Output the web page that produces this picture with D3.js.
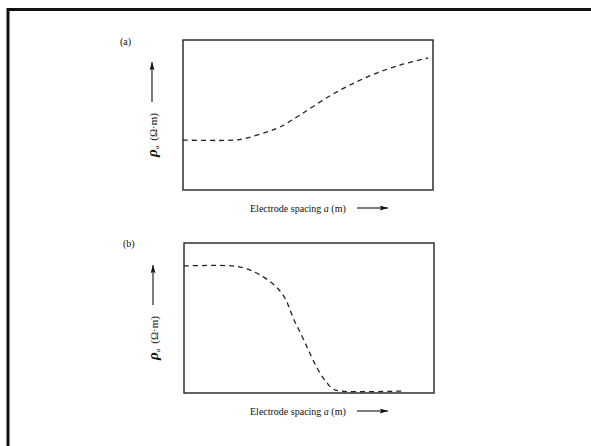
<!DOCTYPE html>
<html>
<head>
<meta charset="utf-8">
<script src="https://cdn.jsdelivr.net/npm/d3@7"></script>
<style>
  body { margin: 0; background: #fff; }
  svg text { font-family: "Liberation Serif", "DejaVu Serif", serif; fill: #111; }
</style>
</head>
<body>
<svg id="chart" width="591" height="446"></svg>
<script>
// sounding curves, x = electrode spacing (0-100), y = apparent resistivity (0-100)
var curveAx = [0, 20.8, 25.6, 33.6, 38.8, 46.8, 60, 73.6, 86.8, 98];
var curveAy = [33.3, 33.3, 34.7, 38.7, 42, 50, 64, 75.3, 83.3, 88];

var curveBx = [0, 19.6, 25.2, 30.4, 35.2, 38.4, 40.8, 42.4, 44.4, 46.4, 49.2, 51.6, 54.4, 57.2, 59.6, 62.4, 87.2];
var curveBy = [84.7, 84.7, 82.7, 78.7, 73.3, 68, 62, 55.3, 47.3, 40.7, 30.7, 22, 13.3, 6.7, 2.7, 1.3, 1.3];

var panelLabels = ['(a)', '(b)'];
var xLabel = 'Electrode spacing ';

var svg = d3.select('#chart');

var defs = svg.append('defs');
defs.append('marker')
	.attr('id', 'head')
	.attr('viewBox', '0 0 10 6')
	.attr('refX', 10)
	.attr('refY', 3)
	.attr('markerWidth', 10)
	.attr('markerHeight', 5)
	.attr('markerUnits', 'userSpaceOnUse')
	.attr('orient', 'auto')
	.append('path')
	.attr('d', 'M0,0 L10,3 L0,6 L2,3 Z')
	.attr('fill', '#111');

// outer frame (top and left only visible)
svg.append('line')
	.attr('x1', 7).attr('y1', 9.5).attr('x2', 591).attr('y2', 9.5)
	.attr('stroke', '#111').attr('stroke-width', 3);
svg.append('line')
	.attr('x1', 8).attr('y1', 8).attr('x2', 8).attr('y2', 446)
	.attr('stroke', '#111').attr('stroke-width', 3);

var panels = [
	{ label: panelLabels[0], xs: curveAx, ys: curveAy, left: 183, top: 40 },
	{ label: panelLabels[1], xs: curveBx, ys: curveBy, left: 184, top: 243 }
];

var W = 250, H = 150;

panels.forEach(function(p) {
	var g = svg.append('g').attr('transform', 'translate(' + p.left + ',' + p.top + ')');

	var x = d3.scaleLinear().domain([0, 100]).range([0, W]);
	var y = d3.scaleLinear().domain([0, 100]).range([H, 0]);

	g.append('rect')
		.attr('x', x(0)).attr('y', y(100))
		.attr('width', x(100) - x(0)).attr('height', y(0) - y(100))
		.attr('fill', 'none')
		.attr('stroke', '#222')
		.attr('stroke-width', 1.4);

	var pts = p.xs.map(function(v, i) { return [v, p.ys[i]]; });
	var line = d3.line()
		.x(function(d) { return x(d[0]); })
		.y(function(d) { return y(d[1]); })
		.curve(d3.curveCatmullRom.alpha(0.5));

	g.append('path')
		.datum(pts)
		.attr('d', line)
		.attr('fill', 'none')
		.attr('stroke', '#222')
		.attr('stroke-width', 1.3)
		.attr('stroke-dasharray', '5,4');

	// panel tag
	g.append('text')
		.attr('x', p.label === '(a)' ? -63 : -61)
		.attr('y', p.label === '(a)' ? 5 : 4)
		.attr('font-size', 10)
		.text(p.label);

	// y label, rotated
	var yl = g.append('text')
		.attr('transform', 'translate(-26,117) rotate(-90)')
		.attr('font-size', 11);
	yl.append('tspan')
		.attr('font-style', 'italic')
		.attr('font-weight', 'bold')
		.attr('font-size', 15)
		.text('\u03C1');
	yl.append('tspan')
		.attr('font-style', 'italic')
		.attr('font-size', 7)
		.attr('dy', 2)
		.text('a');
	yl.append('tspan')
		.attr('dy', -2)
		.attr('dx', 5)
		.text('(\u03A9\u00B7m)');

	g.append('line')
		.attr('x1', -31).attr('y1', 62)
		.attr('x2', -31).attr('y2', 22)
		.attr('stroke', '#111').attr('stroke-width', 1.1)
		.attr('marker-end', 'url(#head)');

	// x label
	var xl = g.append('text')
		.attr('x', 250 - p.left)
		.attr('y', H + 22)
		.attr('font-size', 10);
	xl.append('tspan').text(xLabel);
	xl.append('tspan').attr('font-style', 'italic').text('a');
	xl.append('tspan').text(' (m)');

	g.append('line')
		.attr('x1', 357 - p.left).attr('y1', H + 18)
		.attr('x2', 388 - p.left).attr('y2', H + 18)
		.attr('stroke', '#111').attr('stroke-width', 1.1)
		.attr('marker-end', 'url(#head)');
});
</script>
</body>
</html>
